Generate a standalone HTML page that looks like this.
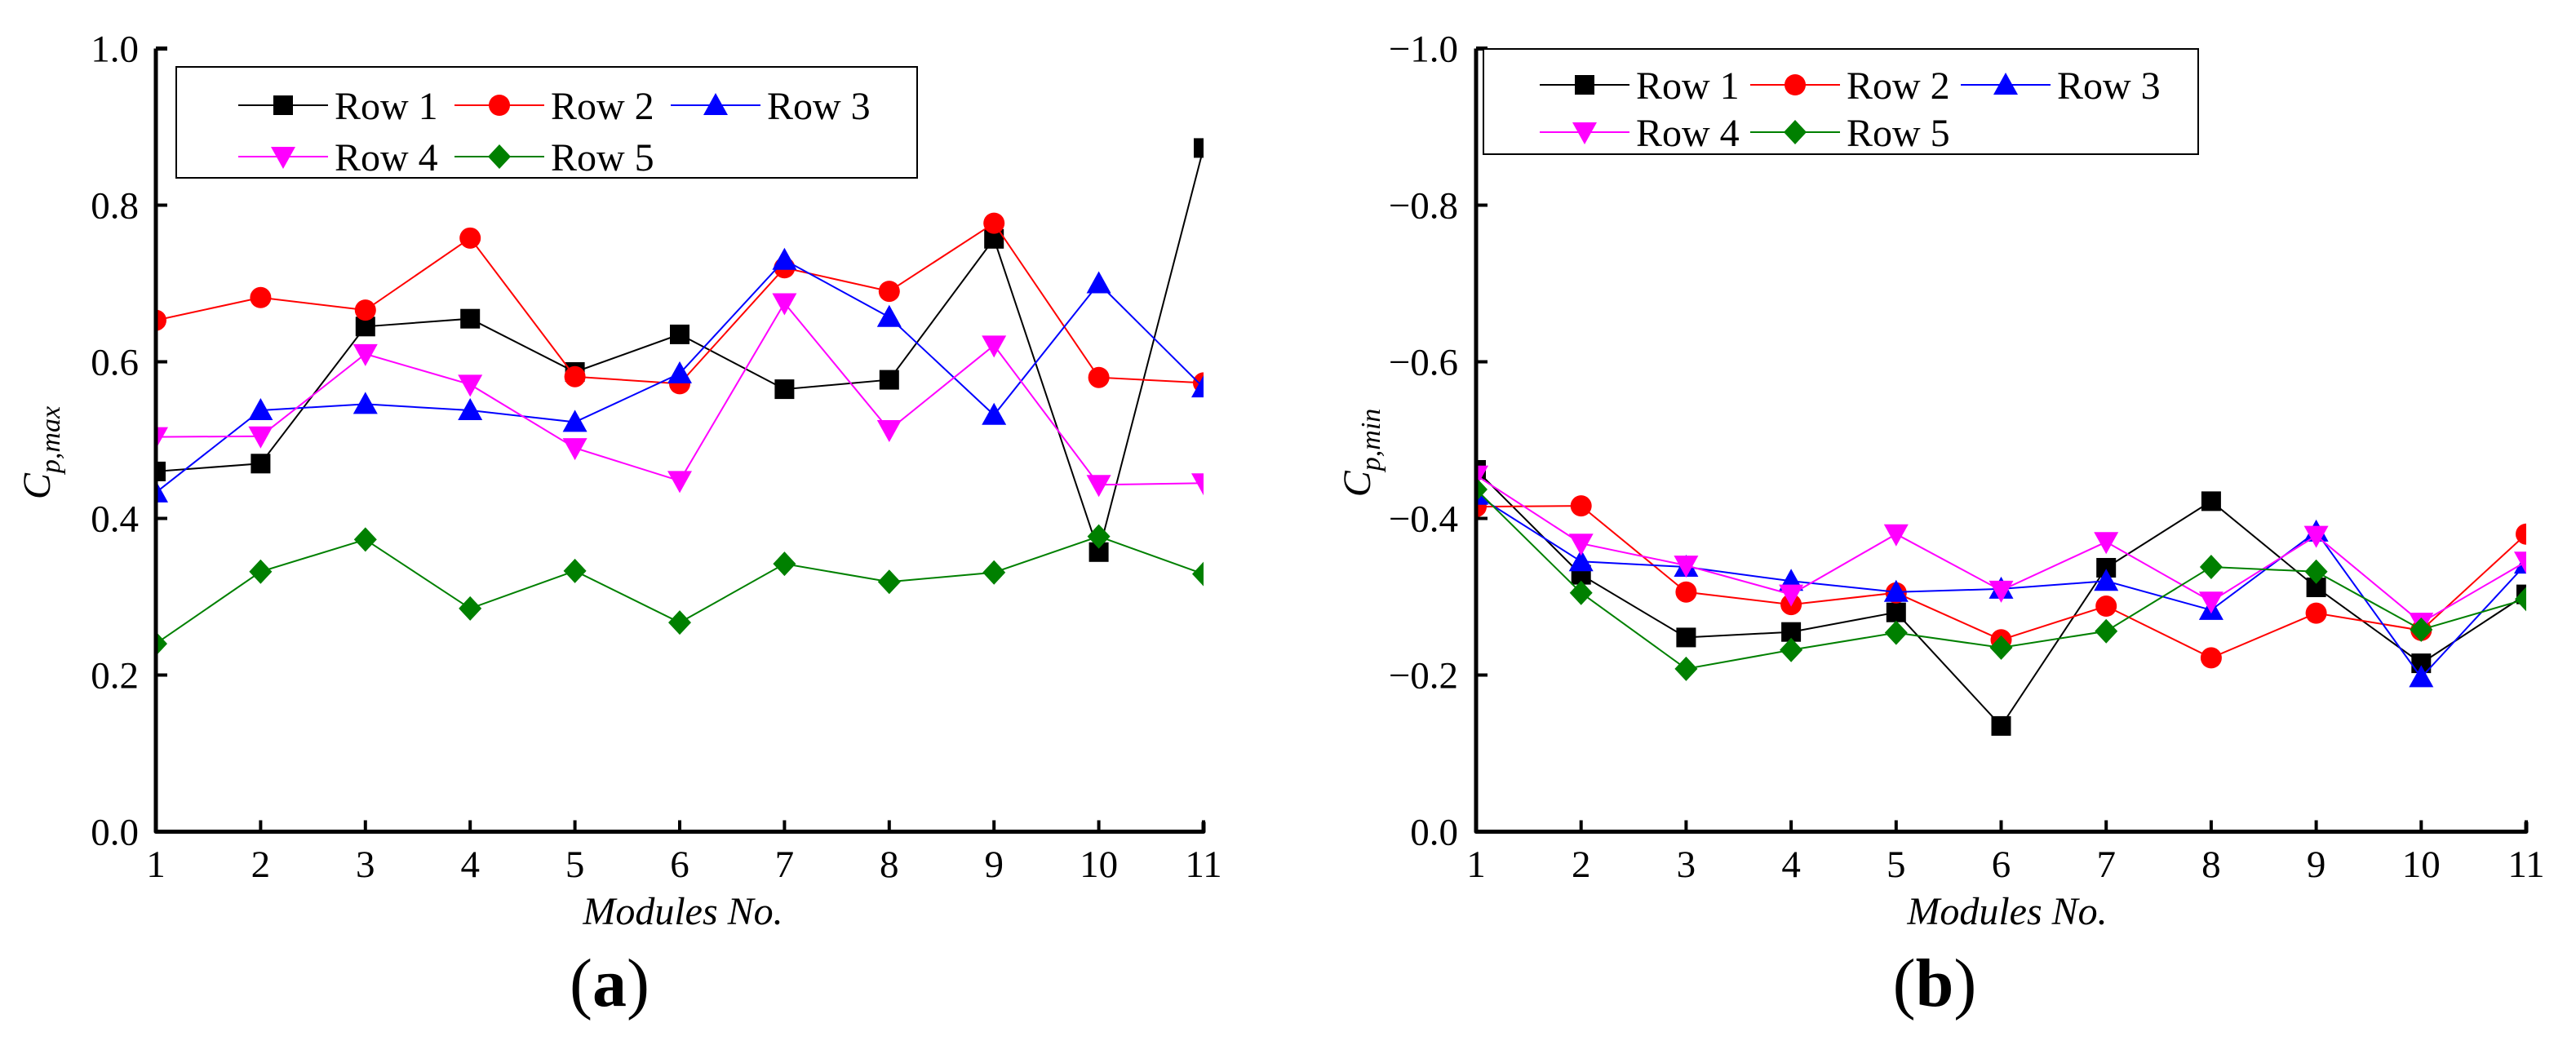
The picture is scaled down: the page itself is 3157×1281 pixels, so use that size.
<!DOCTYPE html>
<html><head><meta charset="utf-8"><style>
html,body{margin:0;padding:0;background:#fff;}
svg, svg text{font-family:"Liberation Serif","Times New Roman","Noto Serif CJK SC","DejaVu Serif",serif !important;}
</style></head><body>
<svg id="chart" width="3157" height="1276" viewBox="0 0 3157 1276" xmlns="http://www.w3.org/2000/svg"></svg>
<script>
const modules = [1,2,3,4,5,6,7,8,9,10,11];
const seriesNames = ["Row 1","Row 2","Row 3","Row 4","Row 5"];
const yTicksA = [0.0,0.2,0.4,0.6,0.8,1.0];
const yTickLabelsA = ["0.0","0.2","0.4","0.6","0.8","1.0"];
const yTicksB = [0.0,-0.2,-0.4,-0.6,-0.8,-1.0];
const yTickLabelsB = ["0.0","\u22120.2","\u22120.4","\u22120.6","\u22120.8","\u22121.0"];
const aRow1 = [0.46,0.47,0.645,0.655,0.587,0.635,0.565,0.577,0.757,0.357,0.873];
const aRow2 = [0.653,0.682,0.666,0.758,0.581,0.572,0.72,0.69,0.777,0.58,0.573];
const aRow3 = [0.433,0.538,0.546,0.538,0.523,0.585,0.73,0.657,0.532,0.7,0.567];
const aRow4 = [0.504,0.505,0.61,0.571,0.49,0.448,0.675,0.513,0.621,0.443,0.445];
const aRow5 = [0.24,0.332,0.373,0.285,0.333,0.267,0.342,0.319,0.331,0.377,0.329];
const bRow1 = [-0.462,-0.328,-0.248,-0.255,-0.28,-0.135,-0.337,-0.422,-0.312,-0.215,-0.303];
const bRow2 = [-0.415,-0.416,-0.306,-0.29,-0.305,-0.245,-0.288,-0.222,-0.279,-0.257,-0.38];
const bRow3 = [-0.43,-0.345,-0.338,-0.32,-0.306,-0.31,-0.32,-0.283,-0.383,-0.197,-0.342];
const bRow4 = [-0.455,-0.368,-0.34,-0.303,-0.38,-0.308,-0.37,-0.294,-0.378,-0.267,-0.345];
const bRow5 = [-0.437,-0.305,-0.208,-0.232,-0.254,-0.235,-0.256,-0.338,-0.332,-0.258,-0.297];

const colors = ["#000000","#ff0000","#0000ff","#ff00ff","#008000"];
const shapes = ["square","circle","up","down","diamond"];
const NS="http://www.w3.org/2000/svg";
const svg=document.getElementById('chart');
function mk(tag,attrs,parent){const e=document.createElementNS(NS,tag);for(const k in attrs)e.setAttribute(k,attrs[k]);(parent||svg).appendChild(e);return e;}
function marker(g,shape,x,y,c){
  let e;
  if(shape==="square") e=mk('rect',{x:x-12,y:y-12,width:24,height:24,fill:c},g);
  else if(shape==="circle") e=mk('circle',{cx:x,cy:y,r:13,fill:c},g);
  else if(shape==="up") e=mk('polygon',{points:`${x},${y-15} ${x-15},${y+12} ${x+15},${y+12}`,fill:c},g);
  else if(shape==="down") e=mk('polygon',{points:`${x},${y+15} ${x-15},${y-12} ${x+15},${y-12}`,fill:c},g);
  else e=mk('polygon',{points:`${x},${y-15} ${x+14},${y} ${x},${y+15} ${x-14},${y}`,fill:c},g);
  return e;
}
function panel(p){
  const x0=p.left,x1=p.right,yb=1019.5,yt=59.5;
  const xs=v=>x0+(v-1)*(x1-x0)/10;
  const ys=v=>yb-(p.sign*v)*(yb-yt);
  const g=mk('g',{});
  
  
  const clipId='clip'+p.id;
  const cp=mk('clipPath',{id:clipId},g);
  mk('rect',{x:x0,y:yt-20,width:x1-x0,height:yb-yt+20},cp);
  const sg=mk('g',{'clip-path':`url(#${clipId})`},g);
  p.data.forEach((arr,si)=>{
    const s=mk('g',{},sg);
    
    
    const pts=arr.map((v,i)=>xs(modules[i])+','+ys(v)).join(' ');
    mk('polyline',{points:pts,fill:'none',stroke:colors[si],'stroke-width':2},s);
    arr.forEach((v,i)=>{const m=marker(s,shapes[si],xs(modules[i]),ys(v),colors[si]);
      
      });
  });
  const ax=mk('path',{d:`M${x0},${yt} L${x0},${yb} L${x1},${yb} L${x1},${yb-12} M${x0},${yt} L${x0+14},${yt}`,fill:'none',stroke:'#000','stroke-width':5,'stroke-linejoin':'round'},g);
  
  
  modules.forEach(m=>{
    mk('line',{x1:xs(m),x2:xs(m),y1:yb,y2:yb-14,stroke:'#000','stroke-width':4},g);
    const t=mk('text',{x:xs(m),y:1075,'font-size':47,'text-anchor':'middle'},g);t.textContent=m;
    
    
  });
  p.ticks.forEach((v,i)=>{
    mk('line',{x1:x0,x2:x0+14,y1:ys(v),y2:ys(v),stroke:'#000','stroke-width':4},g);
    const t=mk('text',{x:p.labelRight,y:ys(v)+16,'font-size':47,'text-anchor':'end'},g);t.textContent=p.tickLabels[i];
    
    
  });
  const xt=mk('text',{x:p.xTitle,y:1133,'font-size':48,'font-style':'italic','text-anchor':'middle'},g);xt.textContent='Modules No.';
  
  
  const yt2=mk('text',{transform:`translate(${x0-130},555) rotate(-90)`,'font-size':48,'font-style':'italic','text-anchor':'middle'},g);
  yt2.innerHTML=`C<tspan font-size="34" dy="12">${p.sub}</tspan>`;
  
  
  const lab=mk('text',{x:p.labX,y:1233,'font-size':84,'font-weight':'bold','text-anchor':'middle'},g);
  lab.innerHTML=`<tspan font-weight="normal">(</tspan>${p.lab}<tspan font-weight="normal">)</tspan>`;
  
  
  const L=p.leg;
  const lg=mk('g',{},g);
  
  
  mk('rect',{x:L.x,y:L.y,width:L.w,height:L.h,fill:'#fff',stroke:'#000','stroke-width':2},lg);
  seriesNames.forEach((n,si)=>{
    const col=si<3?si:si-3, row=si<3?0:1;
    const mx=L.mx+col*L.dx, my=L.my+row*L.dy;
    const e=mk('g',{},lg);
    
    
    mk('line',{x1:mx-55,x2:mx+55,y1:my,y2:my,stroke:colors[si],'stroke-width':2},e);
    marker(e,shapes[si],mx,my,colors[si]);
    const t=mk('text',{x:mx+63,y:my+17,'font-size':48},e);t.textContent=n;
  });
}
panel({id:'a',name:'panel-a-cp-max',left:191,right:1475,sign:1,data:[aRow1,aRow2,aRow3,aRow4,aRow5],ticks:yTicksA,tickLabels:yTickLabelsA,labelRight:170,xTitle:837,labX:747,lab:'a',sub:'p,max',
  leg:{x:216,y:82,w:908,h:136,mx:347,my:129,dx:265,dy:63}});
panel({id:'b',name:'panel-b-cp-min',left:1809,right:3096,sign:-1,data:[bRow1,bRow2,bRow3,bRow4,bRow5],ticks:yTicksB,tickLabels:yTickLabelsB,labelRight:1787,xTitle:2460,labX:2371,lab:'b',sub:'p,min',
  leg:{x:1818,y:60,w:876,h:129,mx:1942,my:104,dx:258,dy:58}});
</script>
</body></html>
